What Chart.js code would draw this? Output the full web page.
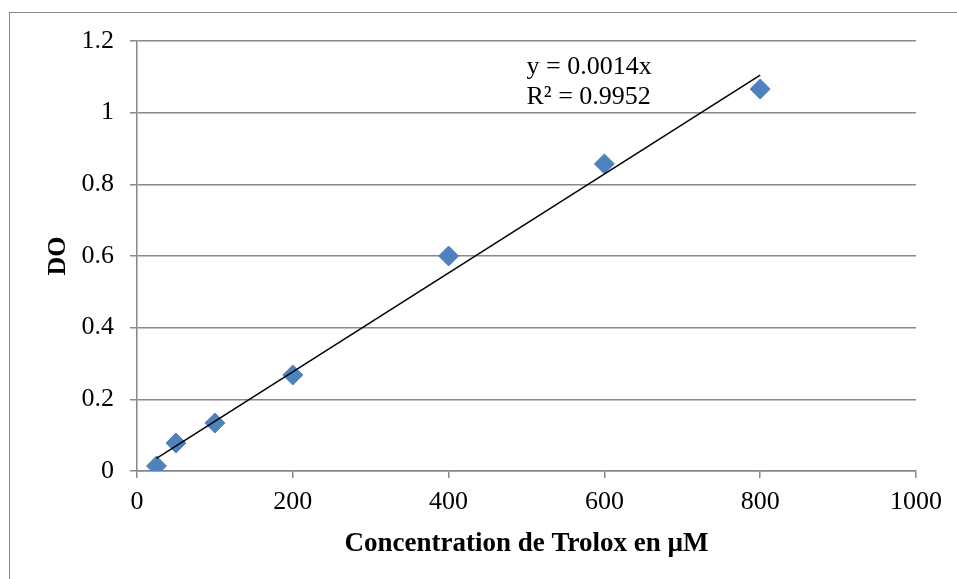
<!DOCTYPE html>
<html>
<head>
<meta charset="utf-8">
<script src="https://cdn.jsdelivr.net/npm/chart.js@4.4.0/dist/chart.umd.min.js"></script>
<style>
  html, body { margin: 0; padding: 0; background: #fff; overflow: hidden; }
  #wrap { position: relative; width: 957px; height: 579px; }
  #frame { position: absolute; left: 9px; top: 12px; width: 1000px; height: 1000px; border: 1px solid #888; box-sizing: border-box; }
  canvas { position: absolute; left: 0; top: 0; }
</style>
</head>
<body>
<div id="wrap">
  <div id="frame"></div>
  <canvas id="chart" width="957" height="579"></canvas>
</div>
<script>
// concentrations de Trolox (µM) et DO mesurées
const concentrations = [25, 50, 100, 200, 400, 600, 800];
const doValues = [0.014, 0.078, 0.134, 0.268, 0.600, 0.857, 1.066];

// courbe de tendance (extrémités)
const trendX = [25, 800];
const trendY = [0.035, 1.105];

const equationLines = ['y = 0.0014x', 'R² = 0.9952'];
const equationPos = { x: 500, y: [1.128, 1.044] };

const serif = "'Liberation Serif', 'Times New Roman', serif";

const equationPlugin = {
  id: 'equation',
  afterDatasetsDraw(chart) {
    const ctx = chart.ctx;
    const xs = chart.scales.x, ys = chart.scales.y;
    ctx.save();
    ctx.font = '26px ' + serif;
    ctx.fillStyle = '#000';
    ctx.textAlign = 'left';
    ctx.textBaseline = 'middle';
    equationLines.forEach((t, i) => {
      ctx.fillText(t, xs.getPixelForValue(equationPos.x), ys.getPixelForValue(equationPos.y[i]));
    });
    ctx.restore();
  }
};

new Chart(document.getElementById('chart').getContext('2d'), {
  type: 'scatter',
  data: {
    datasets: [{
      label: 'DO',
      data: concentrations.map((c, i) => ({ x: c, y: doValues[i] })),
      pointStyle: 'rectRot',
      pointRadius: 10,
      pointBackgroundColor: '#4F81BD',
      pointBorderColor: '#4F81BD',
      pointBorderWidth: 1,
      order: 1
    }, {
      label: 'Linéaire',
      data: trendX.map((c, i) => ({ x: c, y: trendY[i] })),
      showLine: true,
      borderColor: '#000',
      borderWidth: 1.5,
      pointRadius: 0,
      order: 0
    }]
  },
  options: {
    responsive: false,
    animation: false,
    devicePixelRatio: 1,
    layout: { padding: { left: 0, right: 41, top: 41, bottom: 0 } },
    plugins: {
      legend: { display: false },
      tooltip: { enabled: false }
    },
    scales: {
      x: {
        min: 0, max: 1000,
        afterFit(scale) { scale.height = 108; },
        ticks: {
          stepSize: 200, font: { family: serif, size: 26 }, color: '#000', padding: 9, maxRotation: 0,
          callback: v => String(v)
        },
        grid: { drawOnChartArea: false, drawTicks: true, tickLength: 7, color: '#888', lineWidth: 1.5 },
        border: { display: true, color: '#888', width: 1.5 },
        title: {
          display: true,
          text: 'Concentration de Trolox en µM',
          font: { family: serif, size: 27, weight: 'bold' },
          color: '#000',
          padding: { top: 0, bottom: 19 }
        }
      },
      y: {
        min: 0, max: 1.2,
        afterFit(scale) { scale.width = 137; },
        ticks: {
          stepSize: 0.2, font: { family: serif, size: 26 }, color: '#000', padding: 16,
          callback: v => String(Math.round(v * 10) / 10)
        },
        grid: { drawOnChartArea: true, drawTicks: true, tickLength: 7, color: '#888', lineWidth: 1.5 },
        border: { display: true, color: '#888', width: 1.5 },
        title: {
          display: true,
          text: 'DO',
          font: { family: serif, size: 26, weight: 'bold' },
          color: '#000',
          padding: { top: 43, bottom: 0 }
        }
      }
    }
  },
  plugins: [equationPlugin]
});
</script>
</body>
</html>
